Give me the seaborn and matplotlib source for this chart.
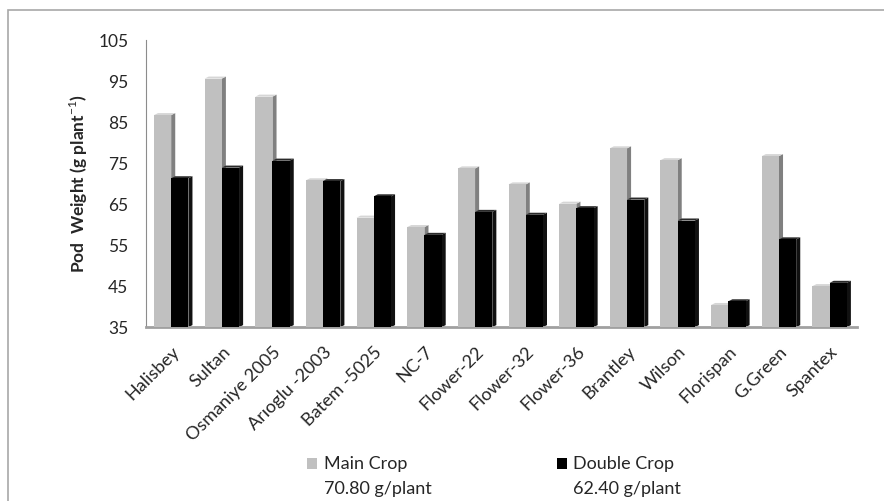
import pandas as pd
import matplotlib
matplotlib.use("Agg")
import matplotlib.pyplot as plt
from matplotlib.patches import Polygon, Rectangle
import seaborn as sns

varieties = ["Halisbey", "Sultan", "Osmaniye 2005", "Arıoglu -2003", "Batem -5025",
             "NC-7", "Flower-22", "Flower-32", "Flower-36", "Brantley", "Wilson",
             "Florispan", "G.Green", "Spantex"]
main_crop = [86.7, 95.6, 91.2, 70.8, 61.7, 59.4, 73.7, 69.8, 65.1, 78.6, 75.7, 40.4, 76.7, 45.0]
double_crop = [71.3, 73.9, 75.6, 70.6, 66.9, 57.5, 63.1, 62.4, 64.0, 66.1, 61.0, 41.3, 56.4, 45.8]
series_names = ["Main Crop", "Double Crop"]
series_means = ["70.80 g/plant", "62.40 g/plant"]

df = pd.DataFrame({
    "Variety": varieties * 2,
    "Weight": main_crop + double_crop,
    "Crop": [series_names[0]] * len(varieties) + [series_names[1]] * len(varieties),
})

sns.set_style("white")
plt.rcParams["font.family"] = ["Lato", "DejaVu Sans"]
plt.rcParams["mathtext.fontset"] = "custom"
plt.rcParams["mathtext.rm"] = "Lato"
plt.rcParams["mathtext.bf"] = "Lato:bold"

fig = plt.figure(figsize=(8.84, 5.01), dpi=100)
ax = fig.add_axes([0.165, 0.347, 0.805, 0.573])

colors = {"Main Crop": "#c0c0c0", "Double Crop": "#000000"}
sns.barplot(data=df, x="Variety", y="Weight", hue="Crop", palette=colors,
            width=0.68, saturation=1, ax=ax, legend=False, zorder=3,
            linewidth=0, edgecolor="none")

ax.set_ylim(35, 105)
ax.set_yticks(range(35, 106, 10))
ax.set_xlim(-0.5, len(varieties) - 0.45)

# fake 3D faces, built from the bar patches
side_col = {"#c0c0c0": "#808080", "#000000": "#111111"}
top_col = {"#c0c0c0": "#d6d6d6", "#000000": "#2a2a2a"}
dx, dy = 0.08, 0.5
y0 = ax.get_ylim()[0]
for p in ax.patches:
    x0 = p.get_x()
    x1 = x0 + p.get_width()
    h = p.get_height()
    fc = matplotlib.colors.to_hex(p.get_facecolor())
    ax.add_patch(Polygon([(x1, y0), (x1 + dx, y0 + dy), (x1 + dx, h + dy), (x1, h)],
                         closed=True, facecolor=side_col.get(fc, "#808080"),
                         edgecolor="none", zorder=2))
    ax.add_patch(Polygon([(x0, h), (x0 + dx, h + dy), (x1 + dx, h + dy), (x1, h)],
                         closed=True, facecolor=top_col.get(fc, "#d6d6d6"),
                         edgecolor="none", zorder=2.5))

for s in ["top", "right"]:
    ax.spines[s].set_visible(False)
ax.spines["left"].set_color("#8c8c8c")
ax.spines["bottom"].set_color("#a0a0a0")
ax.spines["bottom"].set_linewidth(2)
ax.tick_params(axis="y", direction="out", length=3.5, color="#8c8c8c", labelsize=12.5, pad=9)
ax.tick_params(axis="x", length=0, labelsize=13, pad=12)
plt.setp(ax.get_xticklabels(), rotation=45, ha="right", rotation_mode="anchor")

ax.set_xlabel("")
ax.set_ylabel("Pod  Weight (g plant$^{\\mathrm{-1}}$)", fontsize=12.5, fontweight="bold", labelpad=6)

# legend below the plot
fig.patches.append(Rectangle((0.3473, 0.0639), 0.0113, 0.022, transform=fig.transFigure,
                             facecolor="#c0c0c0", edgecolor="none"))
fig.patches.append(Rectangle((0.630, 0.0639), 0.0113, 0.022, transform=fig.transFigure,
                             facecolor="#000000", edgecolor="none"))
fig.text(0.3665, 0.0639, series_names[0], fontsize=13, va="baseline")
fig.text(0.648, 0.0639, series_names[1], fontsize=13, va="baseline")
fig.text(0.3665, 0.014, series_means[0], fontsize=13, va="baseline")
fig.text(0.648, 0.014, series_means[1], fontsize=13, va="baseline")

# chart frame
fig.patches.append(Rectangle((0.009, -0.1), 1.2, 1.08, transform=fig.transFigure,
                             facecolor="none", edgecolor="#a8a8a8", linewidth=1.2))

fig.savefig("out.png", dpi=100)
